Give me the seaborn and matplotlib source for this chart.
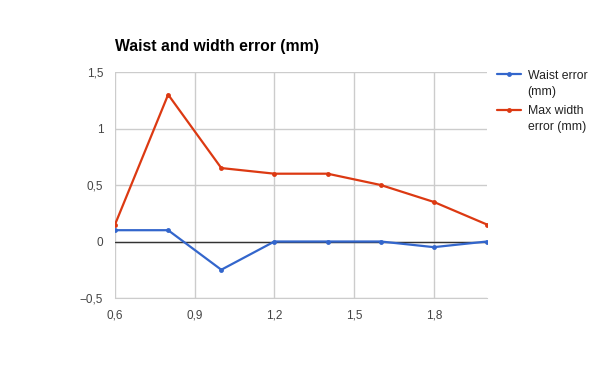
import matplotlib
matplotlib.use("Agg")
import matplotlib.pyplot as plt
import matplotlib.ticker as mticker
import seaborn as sns
import pandas as pd

x_vals = [0.6, 0.8, 1.0, 1.2, 1.4, 1.6, 1.8, 2.0]
waist_error = [0.1, 0.1, -0.25, 0.0, 0.0, 0.0, -0.05, 0.0]
max_width_error = [0.15, 1.3, 0.65, 0.6, 0.6, 0.5, 0.35, 0.15]
series_names = ["Waist error\n(mm)", "Max width\nerror (mm)"]
x_ticks = [0.6, 0.9, 1.2, 1.5, 1.8]
y_ticks = [-0.5, 0, 0.5, 1, 1.5]
colors = ["#3366cc", "#dc3912"]

df = pd.concat([
    pd.DataFrame({"x": x_vals, "y": waist_error, "series": series_names[0]}),
    pd.DataFrame({"x": x_vals, "y": max_width_error, "series": series_names[1]}),
])

sns.set_style("white")
plt.rcParams["font.family"] = ["Liberation Sans", "DejaVu Sans"]

fig = plt.figure(figsize=(6, 3.71), dpi=100)
ax = fig.add_axes([115/600, 1-298/371, (487-115)/600, (298-72)/371])

sns.lineplot(data=df, x="x", y="y", hue="series", palette=colors, ax=ax,
             marker="o", markersize=3.5, markeredgewidth=0, linewidth=1.6, legend=True)

ax.set_xlim(0.6, 2.0)
ax.set_ylim(-0.5, 1.5)
ax.set_xticks(x_ticks)
ax.set_yticks(y_ticks)
fmt = lambda v, p: ("%g" % v).replace(".", ",").replace("-", "\u2212")
ax.xaxis.set_major_formatter(mticker.FuncFormatter(fmt))
ax.yaxis.set_major_formatter(mticker.FuncFormatter(fmt))
ax.tick_params(axis="both", length=0, labelsize=8.5, labelcolor="#444444")
ax.tick_params(axis="y", pad=8.5)
ax.tick_params(axis="x", pad=8)
ax.grid(True, color="#cccccc", linewidth=1)
ax.set_axisbelow(True)
for s in ["top", "right", "left"]:
    ax.spines[s].set_visible(False)
ax.spines["bottom"].set_color("#cccccc")
ax.axhline(0, color="#333333", linewidth=1, zorder=1.5)
ax.set_xlabel("")
ax.set_ylabel("")

ax.set_title("Waist and width error (mm)", loc="left", fontsize=11.3, fontweight="bold",
             color="#000000", x=0, y=1.0, pad=15)

leg = ax.legend(loc="upper left", bbox_to_anchor=((497-115)/372, (298-70)/226),
                frameon=False, fontsize=8.8, handlelength=1.95, handletextpad=0.55,
                labelspacing=0.6, borderaxespad=0, borderpad=0)
for t in leg.get_texts():
    t.set_color("#222222")
    t.set_linespacing(1.45)
for col in leg._legend_handle_box.get_children():
    for hp in col.get_children():
        hp.align = "top"

fig.savefig("out.png", dpi=100)
